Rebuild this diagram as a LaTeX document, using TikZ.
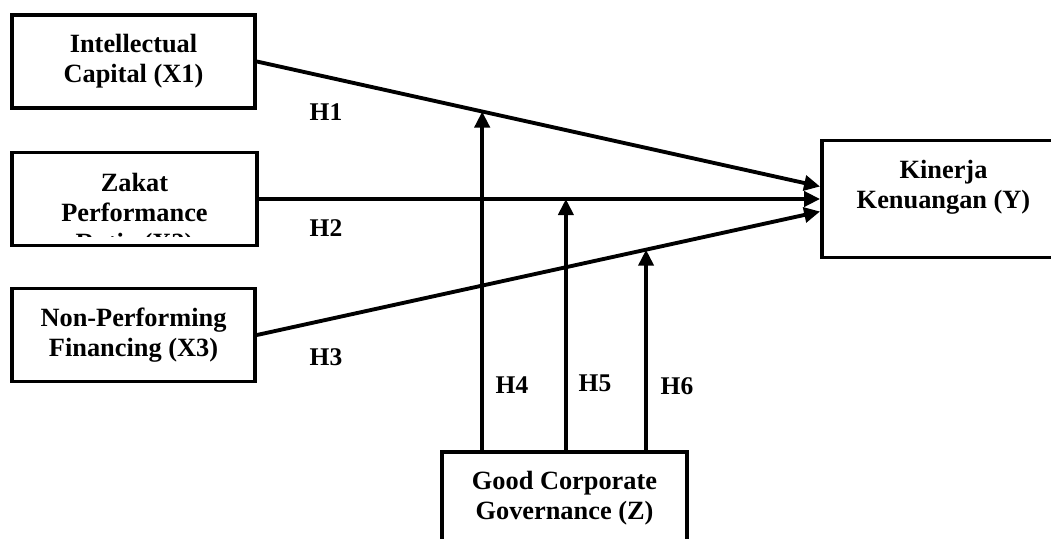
\documentclass[tikz,border=0pt]{standalone}
\usepackage{fontspec}
\setmainfont{Liberation Serif}
\usetikzlibrary{positioning,calc,arrows.meta}
\pgfdeclarelayer{background}
\pgfdeclarelayer{foreground}
\pgfsetlayers{background,main,foreground}
\tikzset{
  varbox/.style={draw, line width=2.2pt, minimum width=4.86cm, minimum height=1.86cm, inner sep=0pt, align=center, font=\fontsize{15pt}{17pt}\selectfont\bfseries},
  hlabel/.style={inner sep=0pt, font=\fontsize{14.5pt}{17pt}\selectfont\bfseries},
  link/.style={line width=2.2pt, -{Triangle[length=0.32cm,width=0.3cm]}},
}
\begin{document}
\begin{tikzpicture}[x=0.02cm,y=-0.02cm]
\useasboundingbox (0,0) rectangle (1051,538);
\begin{pgfonlayer}{foreground}
\node[varbox] (x1) at (133.5,61.5) {Intellectual\\Capital (X1)};
\node[varbox, minimum width=4.9cm] (x2) at (134.5,199) {};
\node[varbox] (x3) at (133.5,335) {Non-Performing\\Financing (X3)};
\node[varbox, minimum height=2.34cm] (y) at (943.5,199) {Kinerja\\Kenuangan (Y)\\\mbox{}};
\node[varbox, minimum width=4.9cm] (z) at (564.5,498.5) {Good Corporate\\Governance (Z)};
\begin{scope}
\clip (x2.north west) rectangle ([yshift=0.21cm]x2.south east);
\node[varbox, draw=none, minimum width=0pt, minimum height=0pt, below=0.42cm of x2.north] (x2text) {Zakat\\Performance\\Ratio (X2)};
\end{scope}
\end{pgfonlayer}
\begin{pgfonlayer}{background}
\coordinate (ya) at ([yshift=0.25cm]y.west);
\coordinate (yc) at ([yshift=-0.25cm]y.west);
\draw[link] (x1.east) -- (ya);
\draw[link] (x2.east) -- (y.west);
\draw[link] (x3.east) -- (yc);
\coordinate (h4) at ($(x1.east)!0.4!(ya)$);
\coordinate (h5) at ($(x2.east)!0.547!(y.west)$);
\coordinate (h6) at ($(x3.east)!0.691!(yc)$);
\draw[link] (z.north -| h4) -- (h4);
\draw[link] (z.north -| h5) -- (h5);
\draw[link] (z.north -| h6) -- (h6);
\end{pgfonlayer}
\node[hlabel] (l1) at (326,112) {H1};
\node[hlabel] (l2) at (326,228) {H2};
\node[hlabel] (l3) at (326,357) {H3};
\node[hlabel] (l4) at (512,385) {H4};
\node[hlabel] (l5) at (595,383) {H5};
\node[hlabel] (l6) at (677,386) {H6};
\end{tikzpicture}
\end{document}
